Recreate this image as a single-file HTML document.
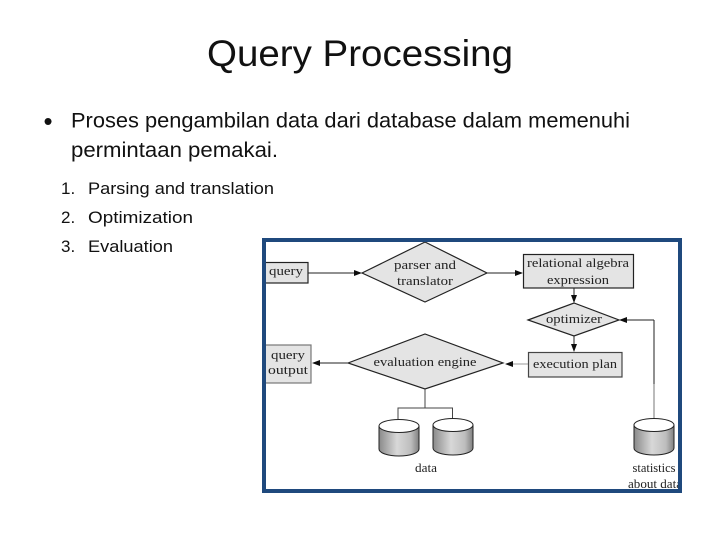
<!DOCTYPE html>
<html>
<head>
<meta charset="utf-8">
<style>
html,body{margin:0;padding:0;background:#fff;width:720px;height:540px;overflow:hidden}
svg{display:block}
.s{font-family:"Liberation Sans",sans-serif;fill:#111}
.d{font-family:"Liberation Serif",serif;fill:#222;font-size:13px;text-anchor:middle}
</style>
</head>
<body>
<svg width="720" height="540" viewBox="0 0 720 540" xmlns="http://www.w3.org/2000/svg">
<defs>
<linearGradient id="c" x1="0" x2="1" y1="0" y2="0">
<stop offset="0" stop-color="#8a8a8a"/>
<stop offset=".45" stop-color="#d8d8d8"/>
<stop offset=".8" stop-color="#bdbdbd"/>
<stop offset="1" stop-color="#808080"/>
</linearGradient>
<clipPath id="f"><rect x="266" y="242" width="412" height="247"/></clipPath>
<filter id="b" x="0" y="0" width="100%" height="100%"><feGaussianBlur stdDeviation="0.35"/></filter>
<g id="cyl">
<path d="M0 7V30C0 34 9 37 20 37S40 34 40 30V7Z" fill="url(#c)" stroke="#222" stroke-width="1"/>
<ellipse cx="20" cy="7" rx="20" ry="6.5" fill="#fff" stroke="#222" stroke-width="1"/>
</g>
</defs>

<text class="s" x="207" y="66" font-size="37" textLength="306" lengthAdjust="spacingAndGlyphs">Query Processing</text>
<text class="s" x="43.500" y="130" font-size="26">•</text>
<text class="s" x="71" y="127.500" font-size="21" textLength="559" lengthAdjust="spacingAndGlyphs">Proses pengambilan data dari database dalam memenuhi</text>
<text class="s" x="71" y="157" font-size="21" textLength="177" lengthAdjust="spacing" style="display:none"></text>
<text class="s" x="71" y="157" font-size="21" textLength="207" lengthAdjust="spacingAndGlyphs">permintaan pemakai.</text>
<g font-size="17">
<text class="s" x="61" y="194">1.</text>
<text class="s" x="88" y="194" textLength="186" lengthAdjust="spacingAndGlyphs">Parsing and translation</text>
<text class="s" x="61" y="223">2.</text>
<text class="s" x="88" y="223" textLength="105" lengthAdjust="spacingAndGlyphs">Optimization</text>
<text class="s" x="61" y="252">3.</text>
<text class="s" x="88" y="252" textLength="85" lengthAdjust="spacingAndGlyphs">Evaluation</text>
</g>

<rect x="264" y="240" width="416" height="251" fill="#fff"/>
<g clip-path="url(#f)">
<g filter="url(#b)">
<g fill="#e4e4e4" stroke="#222" stroke-width="1.2">
<rect x="262" y="262.500" width="46" height="20.500"/>
<rect x="262" y="345" width="49" height="38" stroke="#777"/>
<rect x="523.500" y="254.500" width="110" height="33.500"/>
<rect x="528.500" y="352.500" width="93.500" height="24.500" stroke="#444"/>
<polygon points="362,273 425,242 487,273 425,302"/>
<polygon points="348,363 425,334 503,363 425,389"/>
<polygon points="528,320 574,303 619,320 574,336"/>
</g>

<g fill="none" stroke="#222" stroke-width="1">
<path d="M308 273H356"/>
<path d="M487 273H517"/>
<path d="M574 288V297"/>
<path d="M574 336V346"/>
<path d="M654 320H625"/>
<path d="M654 320V384" />
<path d="M348 363H318"/>
</g>
<path d="M528 364H511" stroke="#999" fill="none"/>
<path d="M654 384V420" stroke="#777" fill="none"/>
<path d="M425 389V408M398 419V408H452.500V419" stroke="#444" fill="none" stroke-width="1"/>

<g fill="#111">
<polygon points="362,273 354,270 354,276"/>
<polygon points="523,273 515,270 515,276"/>
<polygon points="574,303 571,295 577,295"/>
<polygon points="574,352 571,344 577,344"/>
<polygon points="619,320 627,317 627,323"/>
<polygon points="505,364 513,361 513,367"/>
<polygon points="312,363 320,360 320,366"/>
</g>

<use href="#cyl" x="379" y="419"/>
<use href="#cyl" x="433" y="418"/>
<use href="#cyl" x="634" y="418"/>

<text class="d" x="286" y="275" textLength="34" lengthAdjust="spacingAndGlyphs">query</text>
<text class="d" x="288" y="359" textLength="34" lengthAdjust="spacingAndGlyphs">query</text>
<text class="d" x="288" y="374" textLength="40" lengthAdjust="spacingAndGlyphs">output</text>
<text class="d" x="425" y="269" textLength="62" lengthAdjust="spacingAndGlyphs">parser and</text>
<text class="d" x="425" y="285" textLength="56" lengthAdjust="spacingAndGlyphs">translator</text>
<text class="d" x="578" y="267" textLength="102" lengthAdjust="spacingAndGlyphs">relational algebra</text>
<text class="d" x="578" y="284" textLength="62" lengthAdjust="spacingAndGlyphs">expression</text>
<text class="d" x="574" y="323" textLength="56" lengthAdjust="spacingAndGlyphs">optimizer</text>
<text class="d" x="575" y="368" textLength="84" lengthAdjust="spacingAndGlyphs">execution plan</text>
<text class="d" x="425" y="366" textLength="103" lengthAdjust="spacingAndGlyphs">evaluation engine</text>
<text class="d" x="426" y="472" textLength="22" lengthAdjust="spacingAndGlyphs">data</text>
<text class="d" x="654" y="472" textLength="43" lengthAdjust="spacingAndGlyphs">statistics</text>
<text class="d" x="655" y="488" textLength="54" lengthAdjust="spacingAndGlyphs">about data</text>
</g>
</g>
<rect x="264" y="240" width="416" height="251" fill="none" stroke="#1f497d" stroke-width="4"/>
</svg>
</body>
</html>
